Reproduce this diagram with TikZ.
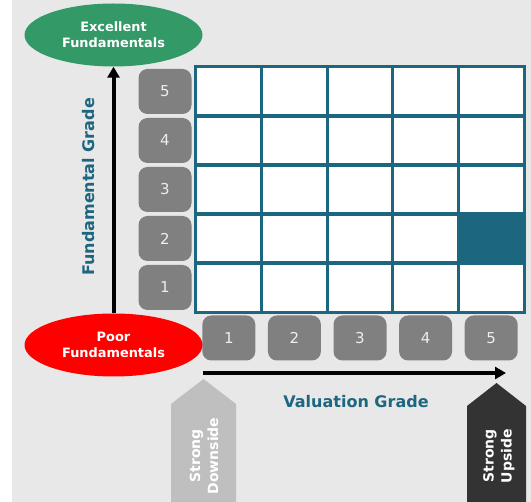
\documentclass[tikz,border=0pt]{standalone}
\usepackage{fontspec}
\setmainfont{DejaVu Sans}
\usetikzlibrary{shapes.geometric, arrows.meta}

\definecolor{bggray}{HTML}{E8E8E8}
\definecolor{gridblue}{HTML}{1D6680}
\definecolor{goodgreen}{HTML}{339966}
\definecolor{badred}{HTML}{FF0000}
\definecolor{boxgray}{HTML}{808080}
\definecolor{boxtext}{HTML}{EEEEEE}
\definecolor{downgray}{HTML}{BFBFBF}
\definecolor{upgray}{HTML}{333333}

\begin{document}
\begin{tikzpicture}[
    x=1pt, y=-1pt,
    grade/.style={rectangle, rounded corners=9pt, fill=boxgray, text=boxtext, minimum width=53pt, minimum height=45pt, inner sep=0pt, font=\fontsize{15}{15}\selectfont},
    cell/.style={rectangle, fill=white, minimum width=65.6pt, minimum height=49pt, inner sep=0pt},
    gridline/.style={draw=gridblue, line width=2.8pt},
    extreme/.style={ellipse, text=white, align=center, minimum width=178pt, minimum height=63pt, inner sep=0pt, font=\bfseries\fontsize{12.9}{16}\selectfont},
    axis/.style={line width=4pt, -{Triangle[length=11pt, width=12pt]}},
    title/.style={text=gridblue, font=\bfseries\fontsize{16}{16}\selectfont},
    tag/.style={text=white, align=center, rotate=90, font=\bfseries\fontsize{14}{18}\selectfont}
]
\useasboundingbox (0,0) rectangle (531,502);
\fill[bggray] (12,0) rectangle (531,502);

% Score grid
\foreach \i in {1,...,5}
  \foreach \j in {1,...,5}
    \node[cell] (c-\i-\j) at ({196+65.6*(\i-0.5)}, {67+49*(5.5-\j)}) {};
\node[cell, fill=gridblue] (c-5-2) at ({196+65.6*4.5}, {67+49*3.5}) {};
\foreach \i in {1,...,5}
  \foreach \j in {1,...,5}
    \draw[gridline] (c-\i-\j.north west) rectangle (c-\i-\j.south east);

% Fundamental grades
\foreach \j in {1,...,5}
  \node[grade] (f\j) at (165, {67+49*(5.5-\j)}) {\j};

% Valuation grades
\foreach \i in {1,...,5}
  \node[grade] (v\i) at ({196+65.6*(\i-0.5)}, 338) {\i};

% Axis ends
\node[extreme, fill=goodgreen] (excellent) at (113.5, 35) {Excellent\\Fundamentals};
\node[extreme, fill=badred] (poor) at (113.5, 345) {Poor\\Fundamentals};
\coordinate (vstart) at (203, 373);
\coordinate (vend) at (506, 373);

\draw[axis] (poor.north) -- (excellent.south);
\draw[axis] (vstart) -- (vend);

\node[title, rotate=90] (fgrade) at (89, 187) {Fundamental Grade};
\node[title] (vgrade) at (356, 402) {Valuation Grade};

% Downside / upside markers
\fill[downgray] (171,502) -- (171,404) -- (203.5,379) -- (236,404) -- (236,502) -- cycle;
\node[tag] (downside) at (204, 456) {Strong\\Downside};
\fill[upgray] (467,502) -- (467,406) -- (496.5,383) -- (526,406) -- (526,502) -- cycle;
\node[tag] (upside) at (499, 456) {Strong\\Upside};

\end{tikzpicture}
\end{document}
